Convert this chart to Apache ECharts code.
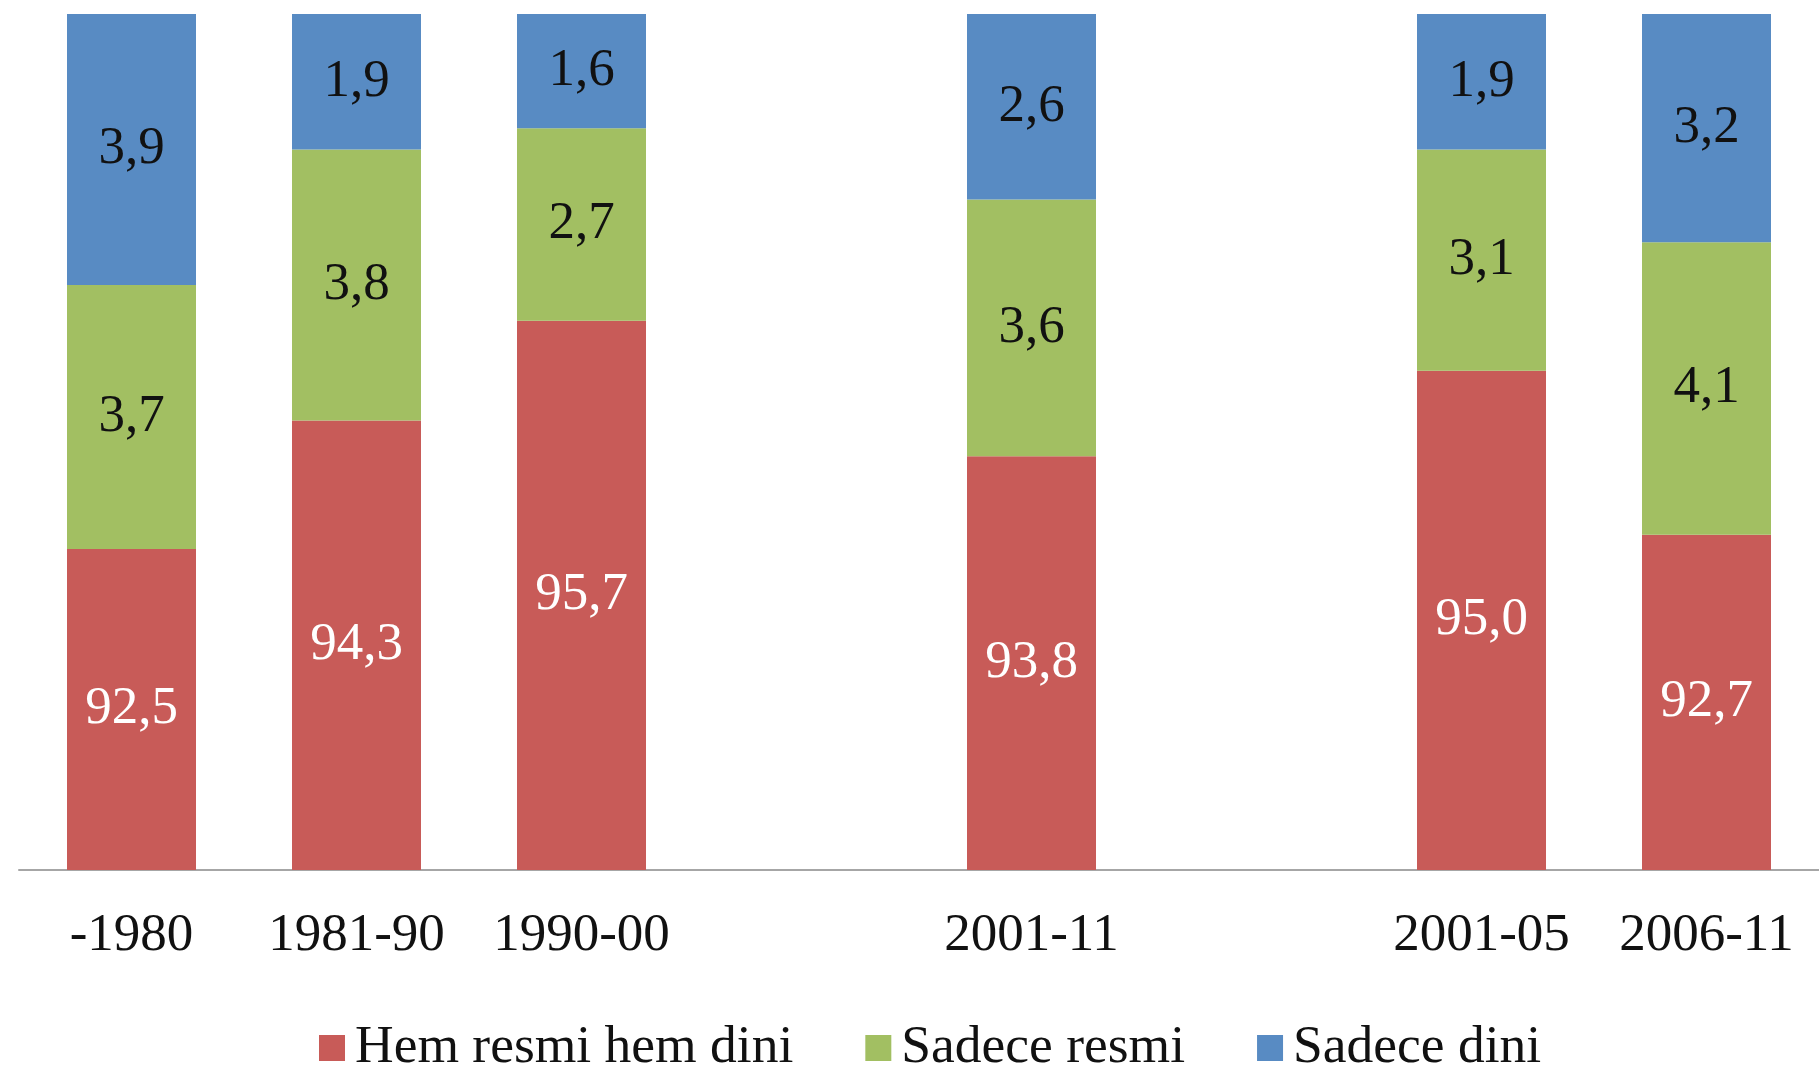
<!DOCTYPE html>
<html>
<head>
<meta charset="utf-8">
<script src="https://cdn.jsdelivr.net/npm/echarts@6/dist/echarts.min.js"></script>
<style>
  html, body { margin: 0; padding: 0; background: #fff; }
  #chart { width: 1819px; height: 1074px; }
</style>
</head>
<body>
<div id="chart"></div>
<script>
  // categories (two blank slots act as spacers, as in the source)
  const periods = ['-1980', '1981-90', '1990-00', '', '2001-11', '', '2001-05', '2006-11'];
  const seriesNames = ['Hem resmi hem dini', 'Sadece resmi', 'Sadece dini'];
  const hemResmiHemDini = [92.5, 94.3, 95.7, null, 93.8, null, 95.0, 92.7];
  const sadeceResmi = [3.7, 3.8, 2.7, null, 3.6, null, 3.1, 4.1];
  const sadeceDini = [3.9, 1.9, 1.6, null, 2.6, null, 1.9, 3.2];
  const yMin = 88;
  const yMax = 100;

  const FONT = "'Liberation Serif', Tinos, 'Times New Roman', serif";
  const colors = ['#C85B58', '#A2BF62', '#588BC3'];

  const fmt = p => (p.value == null ? '' : p.value.toFixed(1).replace('.', ','));

  const makeSeries = (name, data, color, labelColor) => ({
    name,
    type: 'bar',
    stack: 'total',
    barWidth: 129,
    data,
    itemStyle: { color },
    label: {
      show: true,
      position: 'inside',
      formatter: fmt,
      color: labelColor,
      fontFamily: FONT,
      fontSize: 53,
    },
  });

  const chart = echarts.init(document.getElementById('chart'));
  chart.setOption({
    animation: false,
    color: colors,
    textStyle: { fontFamily: FONT },
    grid: {
      left: 19,
      right: 0,
      top: 14,
      bottom: 204,
      containLabel: false,
    },
    legend: {
      data: seriesNames,
      left: 314,
      top: 1016,
      icon: 'rect',
      itemWidth: 26,
      itemHeight: 26,
      itemGap: 72,
      textStyle: {
        fontFamily: FONT,
        fontSize: 53.5,
        color: '#111',
        padding: [0, 0, 0, 5],
      },
    },
    xAxis: {
      type: 'category',
      data: periods,
      axisTick: { show: false },
      axisLine: {
        lineStyle: { color: '#A6A6A6', width: 2 },
      },
      axisLabel: {
        interval: 0,
        margin: 40,
        color: '#111',
        fontFamily: FONT,
        fontSize: 53,
      },
    },
    yAxis: {
      type: 'value',
      min: yMin,
      max: yMax,
      show: false,
      splitLine: { show: false },
    },
    series: [
      makeSeries(seriesNames[0], hemResmiHemDini, colors[0], '#fff'),
      makeSeries(seriesNames[1], sadeceResmi, colors[1], '#111'),
      makeSeries(seriesNames[2], sadeceDini, colors[2], '#111'),
    ],
  });
</script>
</body>
</html>
